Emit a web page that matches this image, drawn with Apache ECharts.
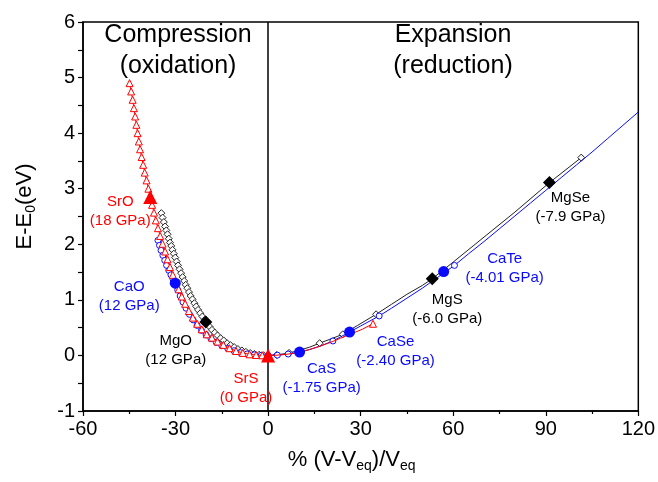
<!DOCTYPE html>
<html lang="en">
<head>
    <meta charset="UTF-8">
    <title>E-E0 vs volume strain</title>
    <script src="https://cdn.jsdelivr.net/npm/echarts@6.0.0/dist/echarts.min.js"></script>
    <style>
        html, body { margin: 0; padding: 0; background: #fff; }
    </style>
</head>
<body>
<div id="main" style="width: 658px;height:482px;"></div>
<script type="text/javascript">
    // ---- data ----
    // SrO / SrS curve (red, open triangles)
    var redX = [-44.9,-44.4,-43.9,-43.5,-43.1,-42.7,-42.3,-41.9,-41.5,-41.0,-40.5,-40.0,-39.4,-38.8,-38.2,-37.6,-37.0,-36.4,-35.7,-35.0,
        -34.2,-33.4,-32.6,-31.8,-30.9,-30.0,-29.0,-28.0,-26.9,-25.7,-24.4,-23.0,-21.5,-19.9,-18.2,-16.4,-14.5,-12.5,-10.4,-8.2,
        -6.0,-3.9,-1.9,0, 2.5,5,7.5,10,13,16.5,20,23.5,27,30.5,34];
    var redY = [4.90,4.75,4.60,4.45,4.30,4.15,4.00,3.85,3.71,3.57,3.43,3.29,3.15,3.00,2.85,2.71,2.57,2.43,2.29,2.15,
        2.01,1.87,1.73,1.59,1.45,1.32,1.19,1.06,0.93,0.80,0.68,0.57,0.47,0.38,0.32,0.25,0.19,0.13,0.08,0.045,
        0.02,0.008,0.002,0, 0.004,0.014,0.032,0.058,0.1,0.16,0.23,0.31,0.39,0.47,0.57];
    var redOpen = [1,1,1,1,1,1,1,1,1,1,1,1,1,1,1,1,1,1,1,1,
        1,1,1,1,1,1,1,1,1,1,1,1,1,1,1,1,1,1,1,1,
        1,1,1,1, 0,0,0,0,0,0,0,0,0,0,1];

    // CaO ... CaTe curve (blue, open circles)
    var blueX = [-35.7,-35.2,-34.7,-34.1,-33.5,-32.9,-32.2,-31.5,-30.8,-30.1,-29.3,-28.5,-27.6,-26.6,-25.5,-24.3,-23.0,-21.6,-20.1,-18.5,
        -16.8,-15.0,-13.1,-11.1,-9.0,-6.8,-4.5,-2.2,0,
        3.0,6.5,10.2,13.5,17,21,26.4,30,36,40,45,50,56.9,60.4,65,70,75,80,85,90,95,100,105,110,115,120];
    var blueY = [2.07,1.98,1.89,1.80,1.71,1.62,1.53,1.45,1.37,1.29,1.18,1.07,0.96,0.85,0.74,0.64,0.54,0.45,0.37,0.30,
        0.235,0.175,0.125,0.085,0.05,0.027,0.011,0.003,0,
        0.005,0.025,0.06,0.105,0.17,0.26,0.42,0.53,0.71,0.85,1.03,1.21,1.48,1.62,1.83,2.05,2.28,2.51,2.74,2.97,3.20,3.43,3.66,3.90,4.14,4.38];
    var blueOpen = [1,1,1,1,1,1,1,1,1,1,1,1,1,1,1,1,1,1,1,1,
        1,1,1,1,1,1,1,1,1,
        1,1,0,0,0,1,0,0,1,0,0,0,0,1,0,0,0,0,0,0,0,0,0,0,0,0];

    // MgO ... MgSe curve (black, open diamonds)
    var blackX = [-34.6,-34.2,-33.8,-33.4,-33.0,-32.6,-32.2,-31.8,-31.4,-31.0,-30.55,-30.1,-29.65,-29.2,-28.7,-28.2,-27.7,-27.2,-26.7,-26.2,
        -25.65,-25.1,-24.5,-23.9,-23.3,-22.7,-22.0,-21.3,-20.6,-19.8,-19.0,-18.2,-17.3,-16.4,-15.4,-14.4,-13.3,-12.2,-11.0,-9.8,
        -8.5,-7.2,-5.8,-4.4,-2.9,-1.5,0,
        2.8,6.8,10,13.5,16.7,20,24.2,29,35,40,45,50,53.2,60,70,80,91.2,101.5];
    var blackY = [2.56,2.48,2.40,2.32,2.25,2.18,2.10,2.03,1.97,1.90,1.83,1.76,1.69,1.62,1.55,1.48,1.41,1.34,1.27,1.21,
        1.14,1.07,1.01,0.94,0.88,0.82,0.76,0.70,0.64,0.58,0.52,0.46,0.41,0.36,0.31,0.27,0.22,0.185,0.15,0.115,
        0.09,0.065,0.043,0.026,0.012,0.004,0,
        0.008,0.045,0.09,0.15,0.22,0.29,0.38,0.54,0.74,0.92,1.10,1.26,1.38,1.68,2.13,2.58,3.11,3.56];
    var blackOpen = [1,1,1,1,1,1,1,1,1,1,1,1,1,1,1,1,1,1,1,1,
        1,1,1,1,1,1,1,1,1,1,1,1,1,1,1,1,1,1,1,1,
        1,1,1,1,1,1,1,
        1,1,0,0,1,0,1,0,1,0,0,0,0,0,0,0,0,1];

    // highlighted compounds (filled symbols)
    var redNames = ['SrO', 'SrS'];
    var redPress = ['18 GPa', '0 GPa'];
    var redPtX = [-38.2, 0];
    var redPtY = [2.85, 0];

    var blueNames = ['CaO', 'CaS', 'CaSe', 'CaTe'];
    var bluePress = ['12 GPa', '-1.75 GPa', '-2.40 GPa', '-4.01 GPa'];
    var bluePtX = [-30.1, 10.2, 26.4, 56.9];
    var bluePtY = [1.30, 0.06, 0.42, 1.51];

    var blackNames = ['MgO', 'MgS', 'MgSe'];
    var blackPress = ['12 GPa', '-6.0 GPa', '-7.9 GPa'];
    var blackPtX = [-20.2, 53.2, 91.2];
    var blackPtY = [0.60, 1.38, 3.11];

    // ---- styles ----
    var RED = '#ff0000', BLUE = '#0a0aff', BLACK = '#000000';
    var FONT = 'Arial, "Liberation Sans", sans-serif';
    // where each compound label sits relative to its symbol (px)
    var labelOffset = {
        SrO: [-30, 14], SrS: [-22, 33],
        CaO: [-46, 13], CaS: [22, 26], CaSe: [46, 19], CaTe: [61, -3],
        MgO: [-30, 28], MgS: [15, 31], MgSe: [21, 25]
    };

    function curve(xs, ys, flags, sym, size, color, z) {
        var pts = [];
        for (var i = 0; i < xs.length; i++) {
            pts.push({value: [xs[i], ys[i]], symbol: flags[i] ? sym : 'none'});
        }
        return {
            type: 'line', data: pts, symbol: sym, symbolSize: size, showAllSymbol: true,
            lineStyle: {color: color, width: 1},
            itemStyle: {color: '#fff', borderColor: color, borderWidth: 1},
            z: z, silent: true, animation: false
        };
    }

    function filled(names, press, xs, ys, sym, size, color) {
        var pts = [];
        for (var i = 0; i < xs.length; i++) {
            pts.push({
                value: [xs[i], ys[i]],
                label: {offset: labelOffset[names[i]]},
                labelText: names[i] + '\n(' + press[i] + ')'
            });
        }
        return {
            type: 'scatter', data: pts, symbol: sym, symbolSize: size,
            itemStyle: {color: color, opacity: 1},
            label: {
                show: true, position: 'inside', color: color, fontSize: 15, lineHeight: 19,
                fontFamily: FONT,
                formatter: function (p) { return p.data.labelText; }
            },
            z: 10, silent: true, animation: false
        };
    }

    var myChart = echarts.init(document.getElementById('main'));

    var blackCurve = curve(blackX, blackY, blackOpen, 'diamond', 7, '#222', 3);
    // vertical line at zero strain
    blackCurve.markLine = {
        silent: true, symbol: 'none', animation: false,
        label: {show: false},
        lineStyle: {color: BLACK, width: 1.5, type: 'solid'},
        data: [{xAxis: 0}]
    };

    var option = {
        animation: false,
        grid: {left: 83, right: 19, top: 22, bottom: 71, show: true, borderColor: BLACK, borderWidth: 1.5},
        xAxis: {
            type: 'value', min: -60, max: 120, interval: 30,
            name: '% (V-V{sub|eq})/V{sub|eq}',
            nameLocation: 'middle', nameGap: 36,
            nameTextStyle: {
                fontSize: 22, color: BLACK, fontFamily: FONT, padding: [0, 18, 0, 0],
                rich: {sub: {fontSize: 14, color: BLACK, fontFamily: FONT, padding: [12, 0, 0, 0]}}
            },
            axisLine: {show: true, onZero: false, lineStyle: {color: BLACK, width: 1.5}},
            axisTick: {show: true, length: 5, lineStyle: {color: BLACK, width: 1.2}},
            minorTick: {show: true, splitNumber: 2, length: 3, lineStyle: {color: BLACK, width: 1.2}},
            splitLine: {show: false},
            axisLabel: {fontSize: 20, color: BLACK, fontFamily: FONT, margin: 8}
        },
        yAxis: {
            type: 'value', min: -1, max: 6, interval: 1,
            name: 'E-E{sub|0}(eV)',
            nameLocation: 'middle', nameGap: 45,
            nameTextStyle: {
                fontSize: 22, color: BLACK, fontFamily: FONT, padding: [0, 0, 0, 20],
                rich: {sub: {fontSize: 14, color: BLACK, fontFamily: FONT, padding: [12, 0, 0, 0]}}
            },
            axisLine: {show: true, onZero: false, lineStyle: {color: BLACK, width: 1.5}},
            axisTick: {show: true, length: 5, lineStyle: {color: BLACK, width: 1.2}},
            minorTick: {show: true, splitNumber: 2, length: 5, lineStyle: {color: BLACK, width: 1.2}},
            splitLine: {show: false},
            axisLabel: {fontSize: 20, color: BLACK, fontFamily: FONT, margin: 8}
        },
        graphic: [
            {type: 'text', x: 178, y: 20, z: 20, silent: true,
                style: {text: 'Compression\n(oxidation)', align: 'center', verticalAlign: 'top',
                    fontSize: 25, lineHeight: 31, fontFamily: FONT, fill: BLACK}},
            {type: 'text', x: 453, y: 20, z: 20, silent: true,
                style: {text: 'Expansion\n(reduction)', align: 'center', verticalAlign: 'top',
                    fontSize: 25, lineHeight: 31, fontFamily: FONT, fill: BLACK}}
        ],
        series: [
            blackCurve,
            curve(blueX, blueY, blueOpen, 'circle', 6, BLUE, 4),
            curve(redX, redY, redOpen, 'triangle', 7, RED, 5),
            filled(blackNames, blackPress, blackPtX, blackPtY, 'diamond', 13, BLACK),
            filled(blueNames, bluePress, bluePtX, bluePtY, 'circle', 11, BLUE),
            filled(redNames, redPress, redPtX, redPtY, 'triangle', 14, RED)
        ]
    };
    myChart.setOption(option);
</script>
</body>
</html>
